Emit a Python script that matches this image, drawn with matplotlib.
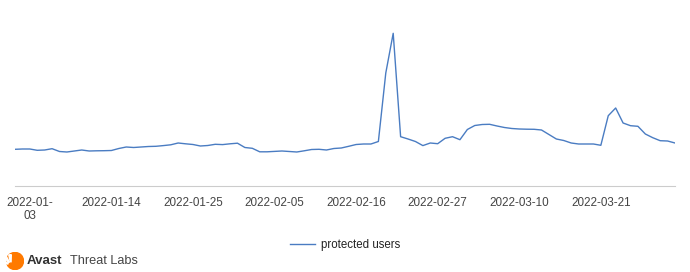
import matplotlib
matplotlib.use("Agg")
import matplotlib.pyplot as plt
from matplotlib.patches import Circle, Wedge
import pandas as pd

# daily values, 2022-01-01 .. 2022-03-31 (arbitrary units)
dates = pd.date_range("2022-01-01", "2022-03-31", freq="D")
protected_users = [
    36.7, 37.0, 37.0, 35.7, 36.0, 37.3, 34.5, 34.0, 35.0, 36.0,
    35.0, 35.2, 35.3, 35.5, 37.5, 39.0, 38.5, 39.0, 39.5, 39.7,
    40.4, 41.2, 43.0, 42.2, 41.5, 40.0, 40.5, 41.7, 41.4, 42.2,
    42.8, 38.5, 37.7, 34.2, 34.2, 34.6, 35.0, 34.5, 34.0, 35.2,
    36.5, 36.7, 36.0, 37.5, 38.0, 39.7, 41.5, 42.0, 42.0, 44.5,
    113.0, 152.7, 49.3, 47.0, 44.5, 40.4, 43.0, 42.3, 47.7, 49.3,
    46.3, 56.5, 60.5, 61.5, 61.7, 60.0, 58.5, 57.5, 57.0, 56.8,
    56.7, 56.0, 51.5, 47.0, 45.5, 43.0, 42.0, 42.0, 42.0, 40.7,
    70.3, 78.0, 63.0, 60.3, 59.7, 52.0, 48.3, 45.3, 45.0, 43.0,
]
tick_dates = ["2022-01-03", "2022-01-14", "2022-01-25", "2022-02-05",
              "2022-02-16", "2022-02-27", "2022-03-10", "2022-03-21"]
tick_labels = ["2022-01-\n03"] + tick_dates[1:]
series_name = "protected users"

plt.rcParams['font.family'] = ['Liberation Sans', 'DejaVu Sans']

fig = plt.figure(figsize=(6.9, 2.72), dpi=100)
ax = fig.add_axes([15/690, 86/272, 660/690, 166/272])

line, = ax.plot(dates, protected_users, color="#4a7cc2", lw=1.0)

ax.set_xlim(dates[0], dates[-1])
ax.set_ylim(0, 166)
ax.set_yticks([])
ax.set_xticks(pd.to_datetime(tick_dates))
ax.set_xticklabels(tick_labels, fontsize=8.4, color="#444444", va="top",
                   linespacing=1.1)
ax.tick_params(axis="x", length=0, pad=8)
for s in ["top", "right", "left"]:
    ax.spines[s].set_visible(False)
ax.spines["bottom"].set_color("#cccccc")
ax.spines["bottom"].set_linewidth(0.8)

fig.legend([line], [series_name], loc="center", bbox_to_anchor=(0.5, 0.099),
           frameon=False, fontsize=8.3, handlelength=2.2, handletextpad=0.5,
           labelcolor="#222222")

# logo: orange disc with white rays
logo = fig.add_axes([6/690, 1 - 270/272, 18/690, 18/272])
logo.set_xlim(-1, 1)
logo.set_ylim(-1, 1)
logo.axis("off")
logo.add_patch(Circle((0, 0), 0.95, color="#ff7a00"))
for ang in [95, 125, 155]:
    logo.add_patch(Wedge((-0.45, -0.45), 1.15, ang - 7, ang + 7, color="white"))
logo.add_patch(Circle((-0.45, -0.45), 0.22, color="#ff7a00"))

fig.text(27/690, 1 - 261/272, "Avast", fontsize=9.5, fontweight="bold",
         color="#333333", va="center")
fig.text(70/690, 1 - 261/272, "Threat Labs", fontsize=9.2, color="#444444",
         va="center")

fig.savefig("out.png", dpi=100)
